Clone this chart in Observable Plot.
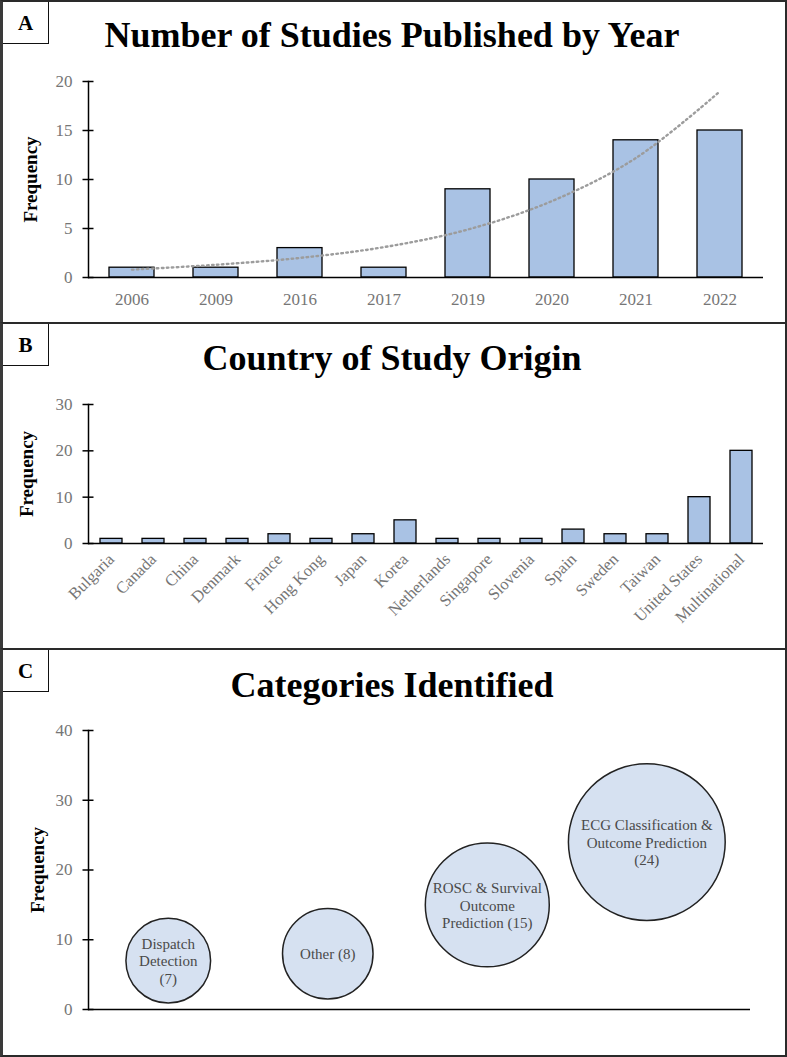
<!DOCTYPE html>
<html><head><meta charset="utf-8">
<script src="https://cdn.jsdelivr.net/npm/d3@7"></script>
<script src="https://cdn.jsdelivr.net/npm/@observablehq/plot@0.6"></script>
<style>
body{margin:0;background:#fff;font-family:"Liberation Serif","Times New Roman",serif;}
#page{position:relative;width:787px;height:1057px;overflow:hidden;background:#fff}
.panel{position:absolute;left:0;width:787px;box-sizing:border-box;border:2px solid #2a2a2a;border-left:3px solid #3a3a3a;}
.tag{position:absolute;left:0;top:0;width:46px;height:42px;box-sizing:border-box;border-right:1.5px solid #111;border-bottom:1.5px solid #111;font-weight:bold;font-size:21px;text-align:center;line-height:42px;color:#000}
.title{position:absolute;left:0;width:784px;text-align:center;font-weight:bold;font-size:36px;line-height:36px;color:#000;white-space:nowrap}
.chart{position:absolute;left:0}
</style></head>
<body>
<div id="page">
  <div class="panel" style="top:0;height:324px"><div class="tag">A</div></div>
  <div class="panel" style="top:322px;height:328px"><div class="tag">B</div></div>
  <div class="panel" style="top:648px;height:409px"><div class="tag">C</div></div>
  <div class="title" style="top:17px">Number of Studies Published by Year</div>
  <div class="title" style="top:340px">Country of Study Origin</div>
  <div class="title" style="top:667px">Categories Identified</div>
  <div id="chartA" class="chart" style="top:60px"></div>
  <div id="chartB" class="chart" style="top:380px"></div>
  <div id="chartC" class="chart" style="top:700px"></div>
</div>
<script>
// ---- Data ----
const years = ["2006","2009","2016","2017","2019","2020","2021","2022"];
const yearCounts = [1,1,3,1,9,10,14,15];
const trendValues = [0.8,1.3,2.0,3.1,4.9,7.8,12.2,19.0]; // exponential trendline
const yTicksA = [0,5,10,15,20];

const countries = ["Bulgaria","Canada","China","Denmark","France","Hong Kong","Japan","Korea","Netherlands","Singapore","Slovenia","Spain","Sweden","Taiwan","United States","Multinational"];
const countryCounts = [1,1,1,1,2,1,2,5,1,1,1,3,2,2,10,20];
const yTicksB = [0,10,20,30];

const categoryLabels = ["Dispatch\nDetection\n(7)","Other (8)","ROSC & Survival\nOutcome\nPrediction (15)","ECG Classification &\nOutcome Prediction\n(24)"];
const categoryPos = [1,2,3,4];
const categoryCounts = [7,8,15,24];
const yTicksC = [0,10,20,30,40];

const FONT = "Liberation Serif, Times New Roman, serif";
const barFill = "#a9c2e4";
const bubbleFill = "#d6e1f1";
const tickGray = "#767676";

const dataA = years.map((y,i)=>({year:y,count:yearCounts[i],trend:trendValues[i]}));
const dataB = countries.map((c,i)=>({country:c,count:countryCounts[i]}));
const dataC = categoryLabels.map((l,i)=>({label:l,pos:categoryPos[i],count:categoryCounts[i]}));

function yAxisMarks(ticks, labelOffset){
  return [
    Plot.frame({anchor:"left", stroke:"#000", strokeWidth:1.5}),
    Plot.axisY({ticks, tickSize:11, dx:5.5, text:null, label:null, stroke:"#000", strokeWidth:1.5}),
    Plot.axisY({ticks, tickSize:0, tickPadding:16, label:null, fontSize:17, fill:tickGray}),
    Plot.text(["Frequency"], {frameAnchor:"left", rotate:-90, textAnchor:"middle", dx:-labelOffset, fontWeight:"bold", fontSize:19, fill:"#000"})
  ];
}

// ---- Panel A ----
const chartA = Plot.plot({
  width:787, height:255,
  marginLeft:88, marginRight:24, marginTop:21, marginBottom:38,
  style:{fontFamily:FONT, background:"transparent", overflow:"visible"},
  x:{type:"band", domain:years, paddingInner:0.47, paddingOuter:0.235},
  y:{domain:[0,20]},
  marks:[
    Plot.barY(dataA, {x:"year", y:"count", fill:barFill, stroke:"#000", strokeWidth:1.3}),
    Plot.line(dataA, {x:"year", y:"trend", stroke:"#9c9c9c", strokeWidth:2.4, strokeDasharray:"1.6,3.4", curve:"catmull-rom"}),
    Plot.ruleY([0], {stroke:"#000", strokeWidth:1.5}),
    Plot.axisX({tickSize:0, tickPadding:15, label:null, fontSize:17, fill:tickGray}),
    ...yAxisMarks(yTicksA, 58)
  ]
});
document.getElementById("chartA").append(chartA);

// ---- Panel B ----
const chartB = Plot.plot({
  width:787, height:268,
  marginLeft:88, marginRight:24, marginTop:24, marginBottom:105,
  style:{fontFamily:FONT, background:"transparent", overflow:"visible"},
  x:{type:"band", domain:countries, paddingInner:0.48, paddingOuter:0.24},
  y:{domain:[0,30]},
  marks:[
    Plot.barY(dataB, {x:"country", y:"count", fill:barFill, stroke:"#000", strokeWidth:1.3}),
    Plot.ruleY([0], {stroke:"#000", strokeWidth:1.5}),
    Plot.axisX({tickSize:0, tickPadding:13, tickRotate:-45, label:null, fontSize:16.5, fill:tickGray}),
    ...yAxisMarks(yTicksB, 62)
  ]
});
document.getElementById("chartB").append(chartB);

// ---- Panel C ----
const chartC = Plot.plot({
  width:787, height:357,
  marginLeft:88, marginRight:37, marginTop:30, marginBottom:48,
  style:{fontFamily:FONT, background:"transparent", overflow:"visible"},
  x:{domain:[0.5,4.65], axis:null},
  y:{domain:[0,40]},
  r:{type:"sqrt", domain:[0,24], range:[0,78.4]},
  marks:[
    Plot.ruleY([0], {stroke:"#000", strokeWidth:1.5}),
    Plot.dot(dataC, {x:"pos", y:"count", r:"count", fill:bubbleFill, stroke:"#222", strokeWidth:1.5}),
    Plot.text(dataC, {x:"pos", y:"count", text:"label", fontSize:15, fill:"#4a4a4a", lineHeight:1.18}),
    ...yAxisMarks(yTicksC, 51)
  ]
});
document.getElementById("chartC").append(chartC);
</script>
</body></html>
